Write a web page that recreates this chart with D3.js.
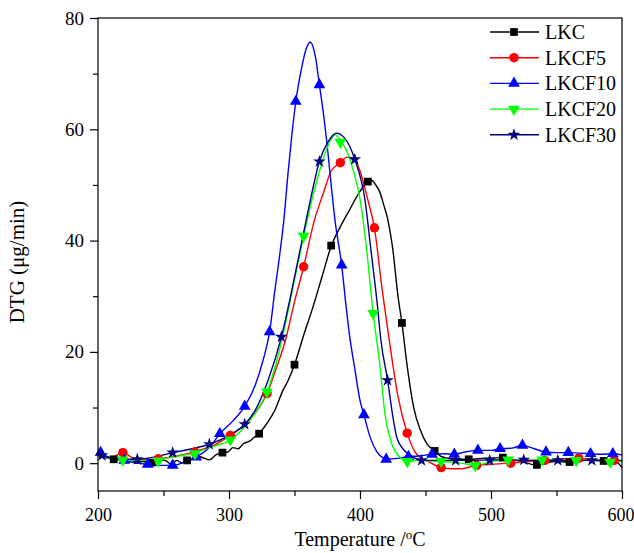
<!DOCTYPE html>
<html>
<head>
<meta charset="utf-8">
<script src="https://cdn.jsdelivr.net/npm/d3@7"></script>
<style>
  body { margin: 0; background: #fff; }
  svg text { font-family: "Liberation Serif", "Times New Roman", serif; fill: #000; }
</style>
</head>
<body>
<div id="container"></div>
<script>
// temperature (°C) and DTG (µg/min) values
const lkcT = [200,205,212,218,223,226,229,234,241,247,252,256,260,264,268,273,277,281,285,290,295,299,303,307,311,316,319,323,327,330,335,341,345,350,357,364,371,378,385,392,399,406,409,412,415,418,421,425,429,432,436,441,446,451,457,462,470,483,495,509,520,535,548,560,573,586,595,600];
const lkcD = [1.3,1.0,0.7,0.5,0.1,0.6,0.0,0.3,0.1,0.7,0.4,-0.2,0.5,0.1,0.5,0.9,1.2,0.9,0.6,1.5,1.9,2.0,2.8,2.6,3.5,4.0,4.6,5.3,6.5,7.5,9.5,13,14.8,17.7,23,28,33.5,39,42.5,45.5,48.5,50.6,50.8,50.0,48.8,46.5,44,38.5,30,25.2,17.5,10,6,3.5,2.2,1.2,0.8,0.7,0.9,1.0,0.5,-0.3,0.3,0.2,0.5,0.4,0.3,-0.8];
const lkcMarkT = [212,241,268,295,323,350,378,406,432,457,483,509,535,560,586];
const lkcMarkD = [0.7,0.1,0.5,1.9,5.3,17.7,39.1,50.6,25.2,2.2,0.7,1.0,-0.3,0.2,0.4];

const f5T = [200,210,219,228,240,250,260,270,280,290,301,310,320,329,336,343,350,357,365,372,378,385,390,395,400,406,411,417,423,429,436,443,453,462,470,478,488,500,514,528,540,553,565,580,592,600];
const f5D = [1.3,1.0,1.9,0.8,0.6,0.9,1.3,1.8,2.5,3.4,5.0,6.5,9.0,12.5,17,22,29,35.3,43.5,48.5,52.5,54.0,55.0,54.8,52.5,47.3,42.3,31,21,12,5.4,1.7,0.2,-0.8,-1.0,-1.0,-0.4,-0.2,0.0,0.3,0.5,0.7,0.9,0.6,0.5,0.4];
const f5MarkT = [219,246,274,301,329,357,385,411,436,462,489,515,541,567,594];
const f5MarkD = [1.9,0.8,2.0,5.0,12.5,35.3,54.0,42.3,5.4,-0.8,-0.4,0.0,0.5,0.9,0.5];

const f10T = [200,210,220,230,238,248,257,266,275,285,293,303,312,320,326,331,335,339,342,345,348,351,355,359,362,366,369,372,375,378,381,386,389,392,396,400,403,408,413,418,420,430,437,445,455,465,472,480,490,500,507,516,524,533,542,550,559,567,576,585,593,600];
const f10D = [1.8,1.0,0.5,0.0,-0.2,-0.4,-0.4,0.2,1.1,2.8,5.3,7.6,10.2,14,18.5,23.6,31,38,44,52,59,65,70.5,74.5,75.7,73,68,63,57,50,43.5,35.6,29,23,17,11.3,8.7,4.5,2.0,0.9,0.7,0.9,1.2,1.3,1.6,1.7,1.6,2.0,2.3,2.3,2.6,2.7,3.2,2.6,2.0,1.9,1.9,1.8,1.7,1.6,1.7,1.5];
const f10MarkT = [202,220,238,257,275,293,312,331,351,369,386,403,420,437,455,472,490,507,524,542,559,576,593];
const f10MarkD = [1.9,0.5,-0.2,-0.4,1.1,5.3,10.2,23.6,65,68,35.6,8.7,0.7,1.2,1.6,1.6,2.3,2.6,3.2,2.0,1.9,1.7,1.7];

const f20T = [200,210,220,236,250,262,273,285,301,310,320,329,336,343,350,357,364,371,377,381,385,390,395,400,405,410,415,419,425,430,436,445,455,462,475,488,500,513,525,539,550,565,580,591,600];
const f20D = [1.3,0.8,0.6,0.5,0.8,1.3,1.8,2.8,4.2,6.0,9.0,12.8,18,25,33,40.8,48,54,57.8,59.0,58,56,52.5,47.5,38.5,27,18,9,3,1.2,0.3,0.5,0.4,0.3,0.1,-0.4,0.3,0.6,0.5,0.6,0.6,0.5,0.5,0.2,0.3];
const f20MarkT = [219,246,274,301,329,357,385,410,436,462,488,513,539,565,591];
const f20MarkD = [0.6,0.4,1.7,4.2,12.8,40.8,57.7,26.9,0.3,0.3,-0.4,0.6,0.6,0.5,0.2];

const f30T = [200,215,230,245,257,270,285,300,312,320,330,340,347,354,361,369,375,382,388,396,404,408,413,416,421,425,428,433,438,447,460,473,486,499,512,525,538,551,564,577,590,600];
const f30D = [1.4,0.8,0.7,1.2,1.9,2.5,3.4,5.0,7.0,9.5,15,22.7,30,38,46,54.2,57.5,59.3,58.5,54.6,47,39,29,22,15,8.5,4.7,2.5,1.5,0.5,0.5,0.5,0.5,0.6,0.6,0.5,0.5,0.5,0.5,0.5,0.5,0.5];
const f30MarkT = [203,230,257,285,312,340,369,396,421,447,473,499,525,551,577];
const f30MarkD = [1.4,0.7,1.9,3.4,7.0,22.7,54.2,54.6,14.9,0.5,0.5,0.5,0.6,0.5,0.5];

const seriesNames = ['LKC', 'LKCF5', 'LKCF10', 'LKCF20', 'LKCF30'];
const xTicks = [200, 300, 400, 500, 600];
const xMinor = [250, 350, 450, 550];
const yTicks = [0, 20, 40, 60, 80];
const yMinor = [10, 30, 50, 70];

// build series
const series = [
    { name: seriesNames[0], t: lkcT, d: lkcD, mt: lkcMarkT, md: lkcMarkD, color: '#000000', symbol: d3.symbolSquare, size: 60, rot: 0 },
    { name: seriesNames[1], t: f5T, d: f5D, mt: f5MarkT, md: f5MarkD, color: '#ff0000', symbol: d3.symbolCircle, size: 70, rot: 0 },
    { name: seriesNames[2], t: f10T, d: f10D, mt: f10MarkT, md: f10MarkD, color: '#0000ff', symbol: d3.symbolTriangle, size: 60, rot: 0 },
    { name: seriesNames[3], t: f20T, d: f20D, mt: f20MarkT, md: f20MarkD, color: '#00ff00', symbol: d3.symbolTriangle, size: 60, rot: 180 },
    { name: seriesNames[4], t: f30T, d: f30D, mt: f30MarkT, md: f30MarkD, color: '#000080', symbol: d3.symbolStar, size: 50, rot: 0 }
];

const width = 634;
const height = 553;
const mLeft = 98, mRight = 622, mTop = 18, mBottom = 491;

const svg = d3.select('#container')
    .append('svg')
    .attr('width', width)
    .attr('height', height);

const xScale = d3.scaleLinear().domain([200, 600]).range([mLeft, mRight]);
const yScale = d3.scaleLinear().domain([-5, 80]).range([mBottom, mTop]);

// lines
const line = d3.line()
    .x((p) => xScale(p[0]))
    .y((p) => yScale(p[1]))
    .curve(d3.curveMonotoneX);

const plot = svg.append('g');

series.forEach((s) => {
    const pts = s.t.map((t, i) => [t, s.d[i]]);
    plot.append('path')
        .attr('d', line(pts))
        .attr('fill', 'none')
        .attr('stroke', s.color)
        .attr('stroke-width', 1.4);
});

series.forEach((s) => {
    const sym = d3.symbol().type(s.symbol).size(s.size);
    plot.selectAll(null)
        .data(s.mt.map((t, i) => [t, s.md[i]]))
        .enter()
        .append('path')
        .attr('d', sym)
        .attr('transform', (p) => `translate(${xScale(p[0])},${yScale(p[1])}) rotate(${s.rot})`)
        .attr('fill', s.color);
});

// frame
svg.append('rect')
    .attr('x', mLeft)
    .attr('y', mTop)
    .attr('width', mRight - mLeft)
    .attr('height', mBottom - mTop)
    .attr('fill', 'none')
    .attr('stroke', '#000')
    .attr('stroke-width', 1.2);

// axes
const xAxis = d3.axisBottom(xScale).tickValues(xTicks).tickSize(8).tickPadding(9).tickFormat(d3.format('d'));
const yAxis = d3.axisLeft(yScale).tickValues(yTicks).tickSize(8).tickPadding(6).tickFormat(d3.format('d'));

const gx = svg.append('g').attr('transform', `translate(0,${mBottom})`).call(xAxis);
const gy = svg.append('g').attr('transform', `translate(${mLeft},0)`).call(yAxis);

svg.append('g').attr('transform', `translate(0,${mBottom})`)
    .call(d3.axisBottom(xScale).tickValues(xMinor).tickSize(5).tickFormat(''));
svg.append('g').attr('transform', `translate(${mLeft},0)`)
    .call(d3.axisLeft(yScale).tickValues(yMinor).tickSize(5).tickFormat(''));

svg.selectAll('.domain').remove();
svg.selectAll('.tick line').attr('stroke', '#000').attr('stroke-width', 1.2);
gx.selectAll('text').style('font-size', '18px').style('font-family', '"Liberation Serif", serif');
gy.selectAll('text').style('font-size', '19px').style('font-family', '"Liberation Serif", serif');
// keep the last label inside the window
gx.selectAll('.tick text').filter((d) => d === 600).attr('text-anchor', 'end').attr('x', 12);

// axis titles
const xt = svg.append('text')
    .attr('x', 360)
    .attr('y', 546)
    .attr('text-anchor', 'middle')
    .style('font-size', '20px');
xt.append('tspan').text('Temperature /');
xt.append('tspan').attr('dy', -7).style('font-size', '13px').text('o');
xt.append('tspan').attr('dy', 7).text('C');

svg.append('text')
    .attr('transform', 'translate(24,262) rotate(-90)')
    .attr('text-anchor', 'middle')
    .style('font-size', '21px')
    .text('DTG (μg/min)');

// legend
const legend = svg.append('g');
series.forEach((s, i) => {
    const ly = 32 + i * 25.7;
    legend.append('line')
        .attr('x1', 490).attr('x2', 539)
        .attr('y1', ly).attr('y2', ly)
        .attr('stroke', s.color)
        .attr('stroke-width', 1.4);
    legend.append('path')
        .attr('d', d3.symbol().type(s.symbol).size(s.size)())
        .attr('transform', `translate(514,${ly}) rotate(${s.rot})`)
        .attr('fill', s.color);
    legend.append('text')
        .attr('x', 545)
        .attr('y', ly + 7)
        .style('font-size', '20px')
        .text(s.name);
});
</script>
</body>
</html>
